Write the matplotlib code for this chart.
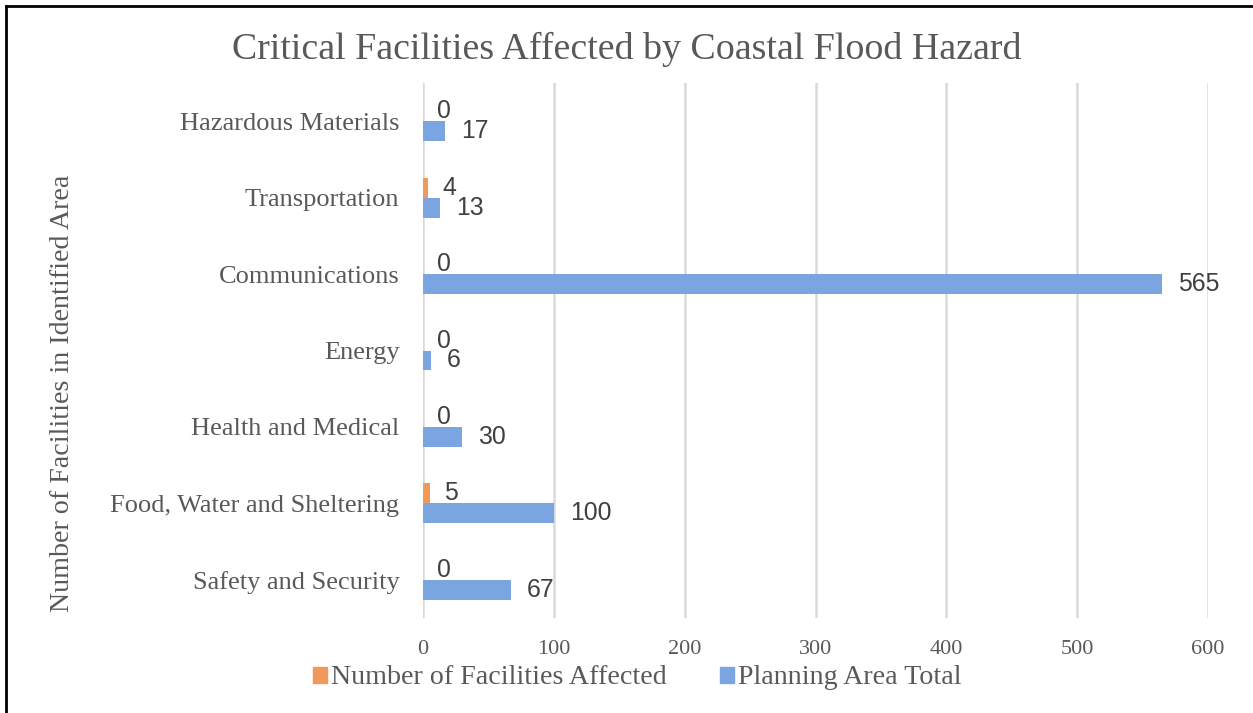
import matplotlib
matplotlib.use("Agg")
import matplotlib.pyplot as plt
from matplotlib.lines import Line2D
from matplotlib.patches import Patch
import numpy as np

categories = [
    "Safety and Security",
    "Food, Water and Sheltering",
    "Health and Medical",
    "Energy",
    "Communications",
    "Transportation",
    "Hazardous Materials",
]
affected = [0, 5, 0, 0, 0, 4, 0]
planning_total = [67, 100, 30, 6, 565, 13, 17]
x_ticks = [0, 100, 200, 300, 400, 500, 600]

ORANGE = "#F0995A"
BLUE = "#7BA5E0"
GREY = "#595959"
SERIF = ["Liberation Serif", "DejaVu Serif"]
SANS = ["Liberation Sans", "DejaVu Sans"]

W, H, DPI = 1253, 713, 100
fig = plt.figure(figsize=(W / DPI, H / DPI), dpi=DPI)
ax = fig.add_axes([423 / W, 1 - 618 / H, (1208 - 423) / W, (618 - 83) / H])

y = np.arange(len(categories))
bh = 0.26
ax.barh(y + bh / 2, affected, height=bh, color=ORANGE, zorder=3)
ax.barh(y - bh / 2, planning_total, height=bh, color=BLUE, zorder=3)

# value labels just past the end of each bar
for yi, a, p in zip(y, affected, planning_total):
    ax.annotate(str(a), (a, yi + bh / 2), xytext=(14, 0), textcoords="offset pixels",
                ha="left", va="center", fontsize=17.8, family=SANS, color="#404040")
    ax.annotate(str(p), (p, yi - bh / 2), xytext=(16, 0), textcoords="offset pixels",
                ha="left", va="center", fontsize=17.8, family=SANS, color="#404040")

ax.set_xlim(0, 600)
ax.set_ylim(-0.5, len(categories) - 0.5)
ax.set_xticks(x_ticks)
ax.set_xticklabels([str(t) for t in x_ticks], family=SERIF, fontsize=16, color=GREY)
ax.set_yticks(y)
ax.set_yticklabels(categories, family=SERIF, fontsize=19, color=GREY)
ax.tick_params(axis="both", length=0)
ax.tick_params(axis="x", pad=16)
ax.tick_params(axis="y", pad=17)
for s in ax.spines.values():
    s.set_visible(False)
ax.grid(axis="x", color="#D9D9D9", linewidth=1.8, zorder=0)

ax.set_ylabel("Number of Facilities in Identified Area", family=SERIF,
              fontsize=20.2, color=GREY)
ax.yaxis.set_label_coords(75 / W, 1 - 393 / H, transform=fig.transFigure)

fig.text(0.5, 1 - 49 / H, "Critical Facilities Affected by Coastal Flood Hazard",
         ha="center", va="center", family=SERIF, fontsize=27.3, color=GREY)

handles = [Patch(color=ORANGE), Patch(color=BLUE)]
leg = fig.legend(handles, ["Number of Facilities Affected", "Planning Area Total"],
                 loc="center", bbox_to_anchor=(637 / W, 1 - 678 / H), ncol=2,
                 frameon=False, handlelength=0.5, handleheight=0.5,
                 handletextpad=0.15, columnspacing=1.9,
                 prop={"family": SERIF, "size": 20.2})
for t in leg.get_texts():
    t.set_color(GREY)

# outer frame of the chart area
fig.add_artist(Line2D([6 / W, 6 / W], [0, 1 - 6 / H], transform=fig.transFigure,
                      color="black", linewidth=2))
fig.add_artist(Line2D([6 / W, 1], [1 - 6 / H, 1 - 6 / H], transform=fig.transFigure,
                      color="black", linewidth=2))

fig.savefig("out.png", dpi=DPI)
